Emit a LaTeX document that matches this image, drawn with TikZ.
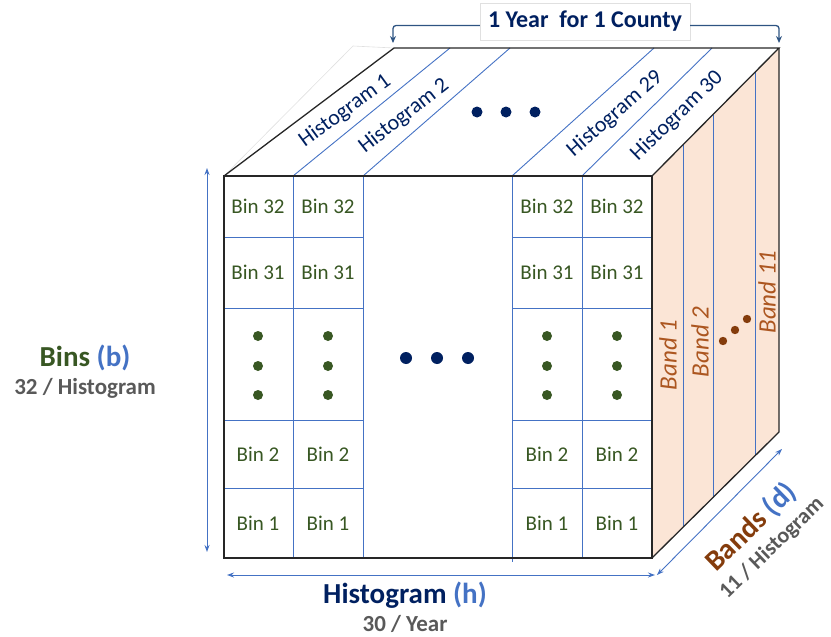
\documentclass[tikz,border=0pt]{standalone}
\usepackage{fontspec}
\setmainfont{Carlito}
\usetikzlibrary{arrows.meta,positioning,calc}

\definecolor{navy}{RGB}{0,32,96}
\definecolor{lblue}{RGB}{68,114,196}
\definecolor{bingreen}{RGB}{56,87,35}
\definecolor{bandbrown}{RGB}{132,60,12}
\definecolor{bandtext}{RGB}{172,86,32}
\definecolor{peach}{RGB}{251,229,214}
\definecolor{txtgrey}{RGB}{89,89,89}
\definecolor{bracketblue}{RGB}{46,84,130}

\begin{document}
\begin{tikzpicture}[x=1pt,y=-1pt,
  grid/.style={lblue, line width=0.9pt},
  edge/.style={black!85, line width=1.3pt},
  binlbl/.style={bingreen, font=\fontsize{21}{21}\selectfont},
  histlbl/.style={navy, font=\fontsize{22}{22}\selectfont, inner sep=1pt},
  bandlbl/.style={bandtext, font=\fontsize{25}{25}\selectfont\itshape, rotate=90, inner sep=1pt},
  headlbl/.style={font=\fontsize{29}{29}\selectfont\bfseries},
  sublbl/.style={txtgrey, font=\fontsize{23}{23}\selectfont\bfseries, inner sep=0pt},
  dimarrow/.style={lblue, line width=0.9pt, {Stealth[length=7pt,width=5pt]}-{Stealth[length=7pt,width=5pt]}},
]
\useasboundingbox (0,0) rectangle (831,637);

% corners of the cube
\coordinate (f1) at (224,176);
\coordinate (f2) at (652,176);
\coordinate (f3) at (652,558);
\coordinate (f4) at (224,558);
\coordinate (b1) at (394,48);
\coordinate (b2) at (779,48);
\coordinate (b3) at (779,432);

% side face (bands)
\fill[peach] (f2) -- (b2) -- (b3) -- (f3) -- cycle;
\foreach \t in {0.244,0.48,0.811}
  \draw[grid] ($(f2)!\t!(b2)$) -- ($(f3)!\t!(b3)$);

% front grid
\foreach \x in {293,363,582}
  \draw[grid] (\x,176) -- (\x,558);
\draw[grid] (512,176) -- (512,562);
\foreach \y in {237,308,420,488} {
  \draw[grid] (224,\y) -- (363,\y);
  \draw[grid] (512,\y) -- (652,\y);
}

% top face lines
\draw[grid] (293,176) -- (450,48);
\draw[grid] (363,176) -- (510,48);
\draw[grid] (512,176) -- (654,48);
\draw[grid] (582,176) -- (712,48);

% cube outline
\draw[black!12, line width=0.6pt] (f1) -- (353,46) -- (b1);
\draw[edge] (f1) rectangle (f3);
\draw[edge] (f1) -- (b1) -- (b2) -- (f2);
\draw[edge] (b2) -- (b3) -- (f3);

% bins
\foreach \cx/\h in {258/1,328/2,547/29,617/30} {
  \node[binlbl] (bin32-\h) at (\cx,206) {Bin 32};
  \node[binlbl] (bin31-\h) at (\cx,272) {Bin 31};
  \node[binlbl] (bin2-\h) at (\cx,454) {Bin 2};
  \node[binlbl] (bin1-\h) at (\cx,523) {Bin 1};
  \foreach \dy in {336,366,395}
    \fill[bingreen] (\cx,\dy) circle (5pt);
}
\foreach \dx in {406,437,468}
  \fill[navy] (\dx,358) circle (6pt);

% histograms on top
\node[histlbl, rotate=36] (hist1) at (345,111) {Histogram 1};
\node[histlbl, rotate=38] (hist2) at (404,116) {Histogram 2};
\node[histlbl, rotate=41] (hist29) at (615,114) {Histogram 29};
\node[histlbl, rotate=44] (hist30) at (677,116) {Histogram 30};
\foreach \dx in {477,506,535}
  \fill[navy] (\dx,112) circle (5.5pt);

% bands
\node[bandlbl] (band1) at (668,355) {Band 1};
\node[bandlbl] (band2) at (700,342) {Band 2};
\node[bandlbl] (band11) at (767,292) {Band 11};
\foreach \dx/\dy in {723/341,735/330,747/319}
  \fill[bandbrown] (\dx,\dy) circle (4.2pt);

% title and bracket
\node[draw=black!12, fill=white, minimum width=210pt, minimum height=37pt, inner sep=0pt,
  text=navy, font=\fontsize{24}{24}\selectfont\bfseries] (title) at (585,21.5) {1 Year\ \ for 1 County};
\coordinate (brL) at (393,43);
\coordinate (brR) at (779,43);
\draw[bracketblue, line width=1.3pt, rounded corners=3pt, -{Stealth[length=7pt,width=6pt]}]
  ([yshift=-4pt]title.west) -| (brL);
\draw[bracketblue, line width=1.3pt, rounded corners=3pt, -{Stealth[length=7pt,width=6pt]}]
  ([yshift=-4pt]title.east) -| (brR);

% dimensions
\coordinate (vT) at (207,168);
\coordinate (vB) at (207,552);
\coordinate (hL) at (227,575);
\coordinate (hR) at (655,575);
\coordinate (dL) at (657,575);
\coordinate (dR) at (782,449);
\draw[dimarrow] (vT) -- (vB);
\draw[dimarrow] (hL) -- (hR);
\draw[dimarrow] (dL) -- (dR);

\node[headlbl, bingreen] (bins) at (85,358) {Bins \textcolor{lblue}{(b)}};
\node[sublbl, below=4pt of bins] (binsub) {32 / Histogram};
\node[headlbl, navy] (histh) at (405,595) {Histogram \textcolor{lblue}{(h)}};
\node[sublbl, below=3pt of histh] (histsub) {30 / Year};
\node[headlbl, bandbrown, rotate=44, inner sep=1pt] (bands) at (751,527) {Bands \textcolor{lblue}{(d)}};
\node[sublbl, rotate=44, font=\fontsize{22}{22}\selectfont\bfseries] (bandsub) at (772,548) {11 / Histogram};
\end{tikzpicture}
\end{document}
